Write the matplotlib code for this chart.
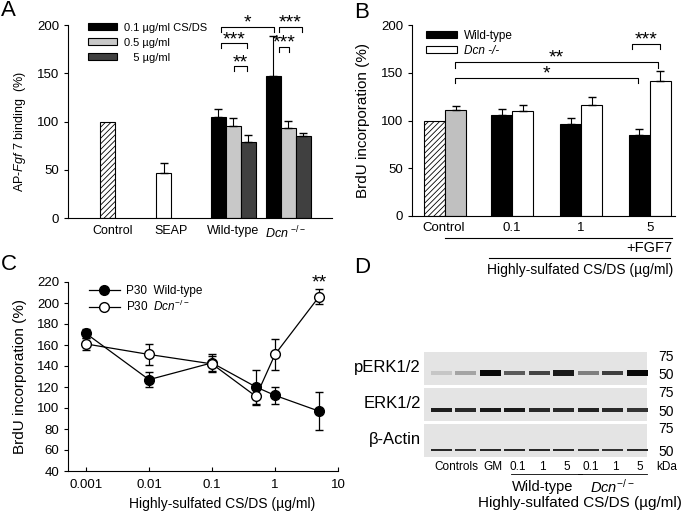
import matplotlib
matplotlib.use("Agg")
import matplotlib.pyplot as plt
from matplotlib.lines import Line2D
import numpy as np

plt.rcParams['font.family'] = ['Liberation Sans', 'DejaVu Sans']
plt.rcParams['font.size'] = 9.5
plt.rcParams['mathtext.fontset'] = 'custom'
plt.rcParams['mathtext.rm'] = 'Liberation Sans'
plt.rcParams['mathtext.it'] = 'Liberation Sans:italic'
plt.rcParams['hatch.linewidth'] = 0.6
plt.rcParams['axes.linewidth'] = 0.8

W, H = 686, 515

# ---- panel A data
a_labels = ['Control', 'SEAP', 'Wild-type', '$\\mathit{Dcn}$ $^{-/-}$']
a_doses = ['0.1 µg/ml CS/DS', '0.5 µg/ml', '   5 µg/ml']
a_ctrl = 100
a_seap = 47
a_seap_err = 10
a_wt = [105, 95, 79]
a_wt_err = [8, 9, 7]
a_dcn = [147, 93, 85]
a_dcn_err = [42, 8, 3]

# ---- panel B data
b_labels = ['Control', '0.1', '1', '5']
b_ctrl = [100, 111]
b_ctrl_err = [0, 4]
b_wt = [106, 96, 85]
b_wt_err = [6, 7, 6]
b_dcn = [110, 116, 141]
b_dcn_err = [6, 9, 11]

# ---- panel C data
c_dose = [0.001, 0.01, 0.1, 0.5, 1, 5]
c_wt = [171, 127, 143, 120, 112, 97]
c_wt_err = [4, 7, 8, 16, 8, 18]
c_dcn = [161, 151, 142, 111, 151, 206]
c_dcn_err = [6, 10, 8, 8, 15, 7]

# ---- panel D data (band strength per lane, 0..1)
d_lanes = ['GM', '0.1', '1', '5', '0.1', '1', '5']
d_perk = [0.12, 0.28, 1.0, 0.62, 0.72, 0.92, 0.45, 0.75, 1.0]
d_erk = [0.9, 0.85, 0.92, 0.92, 0.85, 0.85, 0.88, 0.85, 0.8]
d_actin = [0.85, 0.8, 0.85, 0.85, 0.85, 0.85, 0.8, 0.8, 0.85]
d_kda = ['75', '50']

greys = ['black', '#c8c8c8', '#404040']
STAR = 14


def rect(l, t, r, b):
    return [l / W, 1 - b / H, (r - l) / W, (b - t) / H]


def stars(ax, x, y, txt):
    ax.annotate(txt, xy=(x, y), xytext=(0, -0.5), textcoords='offset points',
                ha='center', va='baseline', fontsize=STAR, annotation_clip=False)


def bracket(ax, x1, x2, top, leg, txt):
    ax.plot([x1, x1, x2, x2], [top - leg, top, top, top - leg], color='black',
            lw=0.8, clip_on=False)
    stars(ax, (x1 + x2) / 2, top, txt)


def style(ax):
    for s in ['top', 'right']:
        ax.spines[s].set_visible(False)


fig = plt.figure(figsize=(W / 100, H / 100), dpi=100)
ov = fig.add_axes([0, 0, 1, 1])
ov.set_xlim(0, W)
ov.set_ylim(H, 0)
ov.axis('off')

# ================= A
ax = fig.add_axes(rect(68, 25, 332, 218))
style(ax)
ax.bar(2.63, a_ctrl, 1, color='white', edgecolor='black', hatch='//////', lw=0.8)
ax.bar(6.37, a_seap, 1, color='white', edgecolor='black', lw=0.8)
ax.errorbar(6.37, a_seap, yerr=[[0], [a_seap_err]], fmt='none', ecolor='black',
            elinewidth=0.8, capsize=3)
wt_x = np.array([10.03, 11.03, 12.03])
dcn_x = wt_x + 3.64
for i in range(3):
    ax.bar(wt_x[i], a_wt[i], 1, color=greys[i], edgecolor='black', lw=0.8,
           label=a_doses[i])
    ax.bar(dcn_x[i], a_dcn[i], 1, color=greys[i], edgecolor='black', lw=0.8)
ax.errorbar(wt_x, a_wt, yerr=[np.zeros(3), a_wt_err], fmt='none', ecolor='black',
            elinewidth=0.8, capsize=3)
ax.errorbar(dcn_x, a_dcn, yerr=[np.zeros(3), a_dcn_err], fmt='none', ecolor='black',
            elinewidth=0.8, capsize=3)
ax.set_xlim(0, 17.6)
ax.set_ylim(0, 200)
ax.set_yticks([0, 50, 100, 150, 200])
ax.set_xticks([3.0, 6.87, 11.0, 14.5])
ax.set_xticklabels(a_labels, fontsize=9)
ax.tick_params(axis='x', length=0, pad=5)
ax.tick_params(axis='y', length=3, width=0.8)
ax.set_ylabel('AP-$\\mathit{Fgf\\ 7}$ binding  (%)', fontsize=9)
ax.yaxis.set_label_coords(-0.15, 0.45)
ax.legend(loc='upper left', bbox_to_anchor=(0.06, 1.035), frameon=False,
          handlelength=2.6, handleheight=0.6, labelspacing=0.45, handletextpad=0.6,
          fontsize=8, borderaxespad=0)
bracket(ax, 10.2, 13.73, 198, 5, '*')
bracket(ax, 10.2, 11.93, 181, 5, '***')
bracket(ax, 11.09, 11.93, 157, 5, '**')
bracket(ax, 14.07, 15.6, 198, 5, '***')
bracket(ax, 14.07, 14.73, 177.5, 5, '***')

# ================= B
ax = fig.add_axes(rect(412, 25, 675, 216))
style(ax)
ax.bar(1.08, b_ctrl[0], 1, color='white', edgecolor='black', hatch='//////', lw=0.8)
ax.bar(2.08, b_ctrl[1], 1, color='#c0c0c0', edgecolor='black', lw=0.8)
ax.errorbar(2.08, b_ctrl[1], yerr=[[0], [b_ctrl_err[1]]], fmt='none', ecolor='black',
            elinewidth=0.8, capsize=3)
bwt_x = np.array([4.26, 7.55, 10.79])
ax.bar(bwt_x, b_wt, 1, color='black', edgecolor='black', lw=0.8, label='Wild-type')
ax.bar(bwt_x + 1, b_dcn, 1, color='white', edgecolor='black', lw=0.8, label='Dcn -/-')
ax.errorbar(bwt_x, b_wt, yerr=[np.zeros(3), b_wt_err], fmt='none', ecolor='black',
            elinewidth=0.8, capsize=3)
ax.errorbar(bwt_x + 1, b_dcn, yerr=[np.zeros(3), b_dcn_err], fmt='none', ecolor='black',
            elinewidth=0.8, capsize=3)
ax.set_xlim(0, 12.5)
ax.set_ylim(0, 200)
ax.set_yticks([0, 50, 100, 150, 200])
ax.set_xticks([1.5, 4.76, 8.0, 11.3])
ax.set_xticklabels(b_labels)
ax.tick_params(axis='x', length=0, pad=4)
ax.tick_params(axis='y', length=3, width=0.8)
ax.set_ylabel('BrdU incorporation (%)', fontsize=11)
ax.yaxis.set_label_coords(-0.16, 0.5)
leg = ax.legend(loc='upper left', bbox_to_anchor=(0.035, 1.0), frameon=False,
                handlelength=2.6, handleheight=0.6, labelspacing=0.25, handletextpad=0.6,
                fontsize=8.5, borderaxespad=0)
leg.get_texts()[1].set_style('italic')
bracket(ax, 10.48, 11.81, 180, 5.5, '***')
bracket(ax, 2.05, 11.71, 161.6, 7, '**')
bracket(ax, 2.05, 10.76, 145, 6, '*')

ov.plot([445, 672], [238, 238], color='black', lw=0.8)
ov.text(672, 248, '+FGF7', ha='right', va='center', fontsize=10.5)
ov.plot([489, 670], [258, 258], color='black', lw=0.8)
ov.text(580, 270, 'Highly-sulfated CS/DS (µg/ml)', ha='center', va='center', fontsize=10)

# ================= C
ax = fig.add_axes(rect(68, 282, 338, 471))
style(ax)
ax.errorbar(c_dose, c_wt, yerr=c_wt_err, color='black', marker='o', ms=7, mfc='black',
            mec='black', lw=0.9, elinewidth=0.9, capsize=3, zorder=3)
ax.errorbar(c_dose, c_dcn, yerr=c_dcn_err, color='black', marker='o', ms=7, mfc='white',
            mec='black', lw=0.9, elinewidth=0.9, capsize=3, zorder=4)
ax.set_xscale('log')
ax.set_xlim(10 ** -3.286, 10)
ax.set_ylim(40, 220)
ax.set_yticks(np.arange(40, 221, 20))
ax.set_xticks([0.001, 0.01, 0.1, 1, 10])
ax.set_xticklabels(['0.001', '0.01', '0.1', '1', '10'])
ax.minorticks_off()
ax.tick_params(axis='x', direction='in', length=3, width=0.8, pad=6)
ax.tick_params(axis='y', length=3, width=0.8)
ax.set_ylabel('BrdU incorporation (%)', fontsize=11)
ax.yaxis.set_label_coords(-0.15, 0.5)
ax.set_xlabel('Highly-sulfated CS/DS (µg/ml)', fontsize=10)
ax.xaxis.set_label_coords(0.57, -0.14)
stars(ax, 5, 215, '**')
handles = [Line2D([], [], color='black', lw=0.9, marker='o', ms=7, mfc='black'),
           Line2D([], [], color='black', lw=0.9, marker='o', ms=7, mfc='white')]
ax.legend(handles, ['P30  Wild-type', 'P30  $\\mathit{Dcn}^{-/-}$'], loc='upper left',
          bbox_to_anchor=(0.06, 1.01), frameon=False, handlelength=2.6,
          labelspacing=0.2, handletextpad=0.5, fontsize=8.5, borderaxespad=0)

# ================= D
lane_x = 441 + 24.5 * np.arange(9)
blots = [(352, 385, d_perk, 373, 3.0, 2.5), (388, 421, d_erk, 410, 4.0, 0.0),
         (424, 457, d_actin, 450, 2.5, 0.0)]
names = ['pERK1/2', 'ERK1/2', 'β-Actin']
for (top, bot, vals, yb, th, extra), nm in zip(blots, names):
    ov.add_patch(plt.Rectangle((424, top), 223, bot - top, color='#e4e4e4', lw=0))
    vals = np.array(vals)
    thick = th + extra * vals
    cols = [str(0.88 - 0.85 * v) for v in vals]
    ov.bar(lane_x, thick, 21, bottom=yb - thick / 2, color=cols, lw=0)
    ov.text(421, (top + bot) / 2 - 1, nm, ha='right', va='center', fontsize=12)
    ov.text(666, top + 5, d_kda[0], ha='center', va='center', fontsize=10)
    ov.text(666, yb + 2, d_kda[1], ha='center', va='center', fontsize=10)

ov.text((lane_x[0] + lane_x[1]) / 2 + 3, 467, 'Controls', ha='center', va='center',
        fontsize=8.5)
for i, lab in enumerate(d_lanes):
    ov.text(lane_x[i + 2] + 3, 467, lab, ha='center', va='center', fontsize=8.5)
ov.text(667, 467, 'kDa', ha='center', va='center', fontsize=8.5)
ov.plot([511, 582], [474, 474], color='black', lw=0.6)
ov.plot([578, 647], [474, 474], color='black', lw=0.6)
ov.text(543, 487, 'Wild-type', ha='center', va='center', fontsize=10.5)
ov.text(612, 487, '$\\mathit{Dcn}^{-/-}$', ha='center', va='center', fontsize=10.5)
ov.text(580, 503, 'Highly-sulfated CS/DS (µg/ml)', ha='center', va='center', fontsize=11)

# panel letters
for lx, ly, lt in [(1, 0, 'A'), (354, 2, 'B'), (1, 254, 'C'), (354, 257, 'D')]:
    ov.text(lx, ly, lt, ha='left', va='top', fontsize=16)

fig.savefig('out.png', dpi=100)
